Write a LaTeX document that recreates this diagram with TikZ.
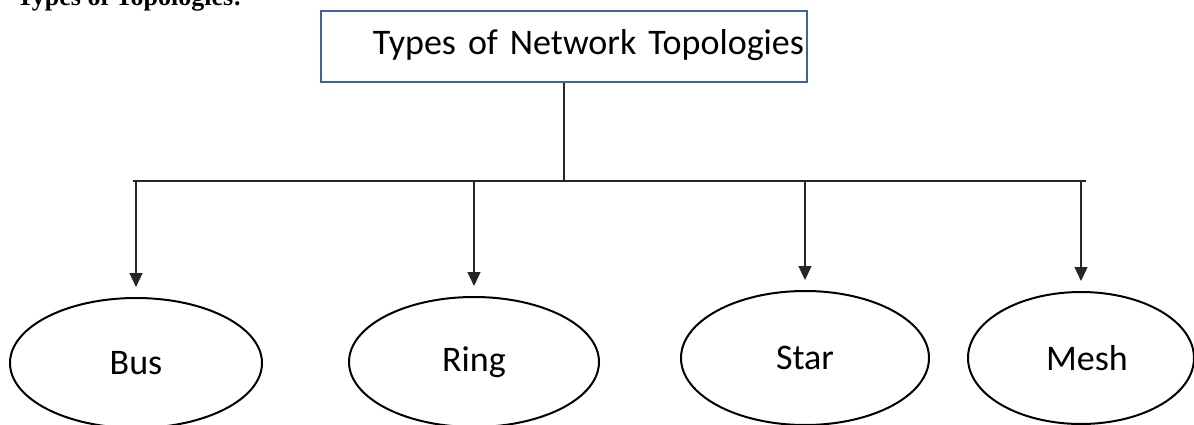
\documentclass[tikz,border=0pt]{standalone}
\usepackage{fontspec}
\usepackage{xcolor}
\usepackage{tikz}
\usetikzlibrary{shapes.geometric,arrows.meta}
\setmainfont{Carlito}
\newfontfamily\headfont{Liberation Serif}
\definecolor{boxblue}{HTML}{3F62A3}

\begin{document}
\begin{tikzpicture}[x=1pt,y=-1pt,
 topo/.style={draw,line width=2pt,ellipse,inner sep=0pt,font=\fontsize{36}{40}\selectfont},
 link/.style={draw=black!85,line width=1.2pt},
 down/.style={link,-{Triangle[width=13pt,length=14pt]}}]

\useasboundingbox (0,0) rectangle (1194,425);

 \node (heading) [anchor=base west] at (13,6) {\headfont\fontsize{26}{30}\selectfont\bfseries Types of Topologies:};

 %title box
 \node (title) [draw=boxblue,line width=2pt,minimum height=71pt,text width=480pt,
  inner xsep=3pt,inner ysep=0pt,align=right,font=\fontsize{36}{40}\selectfont]
  at (564,46.5) {Types of Network Topologies\strut};

 %bar
 \coordinate (barl) at (133,181);
 \coordinate (barr) at (1086,181);
 \draw[link] (barl) -- (barr);
 \draw[link] (title.south) -- (title.south |- barl);

 %leaves
 \foreach \name/\txt/\x/\y/\w/\h in {bus/Bus/136/363/252/130,ring/Ring/474/362/250/130,
  star/Star/805/358/248/134,mesh/\hspace{12pt}Mesh/1081/358/226/132}
 {
  \node (\name) [topo,minimum width=\w pt,minimum height=\h pt] at (\x,\y) {\txt};
  \draw[down] (\name.north |- barl) -- ([yshift=10pt]\name.north);
 }

\end{tikzpicture}
\end{document}
